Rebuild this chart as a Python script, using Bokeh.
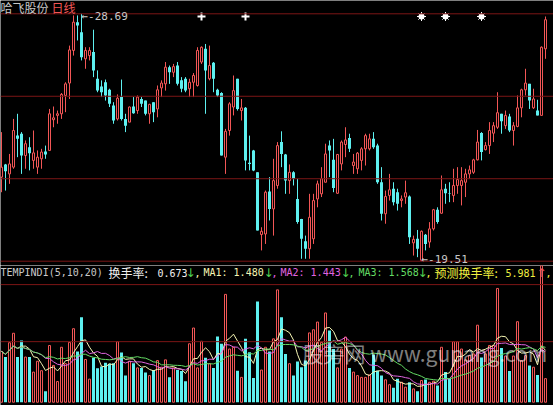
import pandas as pd
from bokeh.plotting import figure
from bokeh.layouts import column
from bokeh.models import ColumnDataSource, Label, Span
from bokeh.embed import file_html
from bokeh.resources import INLINE

# ---- daily prices ----
open_ = [22.63, 23.10, 22.75, 23.00, 24.17, 24.24, 23.43, 23.74, 23.25, 23.00,
         23.31, 23.58, 23.62, 24.76, 24.92, 24.98, 25.66, 26.12, 27.33, 28.38,
         28.01, 27.02, 27.14, 27.27, 26.28, 25.99, 26.15, 25.87, 25.29, 24.79,
         25.60, 24.79, 24.67, 25.25, 25.10, 25.53, 25.47, 24.98, 25.41, 25.16,
         25.94, 26.09, 26.71, 26.52, 26.77, 26.22, 26.28, 25.91, 26.15, 26.03,
         26.90, 27.39, 26.28, 26.87, 25.87, 25.75, 23.37, 24.36, 25.23, 26.28,
         25.10, 25.20, 23.16, 23.62, 22.81, 20.50, 20.52, 22.10, 21.45, 22.32,
         23.93, 23.47, 22.50, 22.81, 21.82, 21.08, 20.25, 19.97, 20.34, 21.82,
         22.01, 22.44, 23.80, 23.27, 22.03, 23.12, 23.84, 24.08, 23.06, 22.94,
         23.25, 23.68, 23.68, 24.05, 23.80, 22.44, 21.27, 21.95, 22.20, 22.07,
         21.76, 21.89, 21.91, 20.19, 20.34, 19.54, 20.49, 20.22, 20.71, 21.42,
         21.29, 22.20, 22.03, 21.95, 22.32, 22.32, 22.44, 22.75, 22.81, 23.27,
         24.27, 23.65, 23.80, 24.26, 24.48, 24.98, 24.54, 24.88, 24.36, 24.51,
         25.20, 25.87, 26.09, 25.20, 25.10, 24.92, 27.39]
high = [24.30, 23.12, 23.49, 24.79, 24.98, 24.30, 23.99, 24.11, 24.36, 23.62,
        23.68, 23.80, 25.16, 25.25, 25.10, 25.75, 26.15, 27.51, 28.63, 28.63,
        28.69, 27.45, 27.45, 28.10, 26.59, 26.22, 26.25, 25.91, 25.41, 25.70,
        26.25, 24.98, 25.25, 25.60, 25.66, 25.60, 25.47, 25.35, 25.41, 26.03,
        26.22, 26.90, 26.77, 26.83, 26.90, 26.34, 26.34, 26.28, 26.49, 27.45,
        27.48, 27.57, 27.51, 26.90, 25.91, 25.78, 24.42, 25.41, 26.40, 26.28,
        25.53, 25.23, 24.17, 23.64, 22.81, 20.77, 22.13, 22.63, 23.31, 23.93,
        24.33, 23.49, 23.10, 22.85, 22.57, 21.08, 20.46, 22.01, 22.01, 22.50,
        23.00, 23.87, 23.99, 24.05, 23.49, 23.99, 24.48, 24.24, 23.49, 23.56,
        23.74, 24.24, 24.24, 24.30, 23.87, 23.00, 22.13, 22.75, 22.44, 22.20,
        21.95, 22.50, 21.95, 20.46, 20.67, 20.65, 20.52, 20.96, 21.45, 21.51,
        22.69, 22.38, 22.44, 22.94, 23.00, 23.00, 22.94, 23.06, 23.31, 24.38,
        24.30, 23.93, 24.67, 24.67, 25.78, 24.98, 25.10, 24.98, 24.67, 25.66,
        25.91, 26.65, 26.09, 25.91, 25.50, 27.48, 28.59]
low = [22.07, 22.13, 22.38, 22.94, 23.37, 22.75, 22.94, 22.88, 22.94, 22.75,
       22.94, 23.31, 23.62, 24.48, 24.61, 24.79, 25.04, 25.53, 27.14, 27.70,
       26.96, 26.65, 26.96, 26.34, 25.78, 25.60, 25.47, 25.23, 24.61, 24.73,
       24.73, 24.30, 24.67, 24.98, 24.98, 25.23, 24.92, 24.61, 24.67, 24.85,
       25.60, 25.84, 26.09, 26.34, 26.03, 25.78, 25.78, 25.60, 25.60, 25.99,
       26.83, 24.98, 26.22, 25.78, 25.60, 23.43, 22.75, 24.17, 24.92, 25.10,
       24.73, 22.88, 22.88, 22.85, 20.65, 19.91, 20.15, 21.02, 20.46, 22.20,
       23.00, 22.01, 22.01, 22.32, 20.90, 19.60, 19.60, 19.60, 20.15, 21.51,
       21.89, 22.44, 22.63, 22.07, 22.01, 22.88, 23.37, 23.56, 22.75, 22.75,
       22.88, 23.06, 23.62, 23.68, 22.38, 21.02, 20.90, 21.76, 21.58, 21.39,
       21.51, 21.64, 20.15, 19.72, 19.66, 19.51, 19.91, 20.01, 20.65, 20.90,
       21.27, 21.64, 21.70, 21.70, 22.01, 21.58, 21.89, 22.57, 22.75, 23.25,
       23.25, 23.62, 23.49, 23.93, 24.42, 24.24, 24.42, 24.30, 23.80, 24.48,
       24.85, 25.66, 25.16, 25.16, 24.92, 24.92, 27.02]
close = [23.00, 22.85, 23.12, 24.36, 24.05, 23.43, 23.87, 23.52, 23.53, 23.37,
         23.56, 23.47, 24.98, 24.83, 24.98, 25.70, 26.09, 27.35, 28.38, 28.26,
         27.08, 27.33, 27.33, 26.59, 25.84, 25.78, 25.66, 25.35, 24.73, 25.56,
         24.79, 24.54, 25.23, 25.00, 25.60, 25.35, 24.98, 25.33, 25.04, 25.87,
         26.12, 26.71, 26.52, 26.73, 26.09, 25.91, 25.84, 26.15, 26.40, 27.33,
         27.45, 26.59, 26.77, 26.28, 25.66, 23.43, 24.33, 25.35, 25.84, 25.16,
         25.20, 23.25, 23.12, 22.88, 20.65, 20.62, 22.07, 21.45, 22.50, 23.80,
         23.49, 22.50, 22.81, 22.57, 20.96, 20.34, 19.97, 21.14, 21.76, 22.38,
         22.57, 23.49, 23.62, 22.23, 23.47, 23.93, 24.01, 23.68, 23.19, 23.52,
         23.68, 24.17, 24.05, 23.74, 22.44, 21.27, 21.91, 22.16, 21.70, 21.64,
         21.82, 22.05, 20.40, 20.32, 19.97, 20.62, 20.15, 20.71, 21.42, 20.96,
         22.16, 22.03, 22.01, 22.32, 22.54, 22.50, 22.75, 22.90, 23.27, 23.93,
         23.56, 23.80, 24.36, 24.54, 25.02, 24.70, 24.92, 24.36, 24.54, 25.20,
         25.87, 26.12, 25.47, 25.53, 24.92, 27.45, 28.47]

# ---- daily turnover rate (%) ----
turnover = [1.45, 1.29, 1.70, 1.97, 1.29, 1.76, 1.29, 1.29, 0.86, 1.17,
            0.90, 0.31, 1.62, 1.05, 0.59, 1.57, 1.10, 1.71, 2.10, 1.45,
            2.43, 1.22, 0.66, 1.27, 0.97, 1.02, 1.13, 1.10, 1.11, 1.73,
            1.42, 0.76, 1.17, 1.11, 0.98, 0.98, 0.85, 0.76, 0.92, 1.19,
            1.00, 1.21, 0.71, 0.98, 0.92, 0.89, 0.60, 1.67, 2.12, 0.98,
            1.74, 1.27, 1.10, 0.98, 1.88, 1.67, 3.08, 1.52, 1.57, 0.90,
            0.71, 1.81, 1.43, 0.69, 2.88, 0.92, 1.57, 1.45, 1.81, 3.21,
            2.43, 1.38, 1.10, 0.76, 1.16, 1.00, 1.19, 1.98, 2.07, 2.29,
            1.71, 2.55, 2.05, 1.52, 0.98, 1.52, 1.86, 0.98, 0.86, 0.76,
            0.71, 0.71, 0.78, 1.36, 0.90, 0.76, 0.64, 0.50, 0.41, 0.67,
            0.57, 0.43, 0.57, 0.38, 0.31, 0.62, 0.65, 0.57, 0.60, 0.48,
            1.57, 0.86, 0.67, 1.73, 1.73, 1.52, 1.21, 1.33, 1.38, 2.20,
            1.28, 1.38, 1.62, 1.62, 3.25, 1.55, 1.32, 0.89, 1.32, 2.30,
            1.19, 1.33, 1.05, 1.00, 0.777, 3.90, 0.673]

stock_name = "哈飞股份"
period_name = "日线"
indicator_title = "TEMPINDI(5,10,20)"
ma_windows = [5, 10, 20]
forecast_turnover = 5.981
cross_signal_idx = [50, 61]
star_signal_idx = [105, 111, 120]
turnover_grid = [1.73, 3.36]

UP = "#f25656"
DOWN = "#5ef0f0"
GRID = "#7c1616"
MA_COLORS = ["#f6f6b4", "#e064e0", "#64dc64"]
MONO = "DejaVu Sans Mono"
SANS = "DejaVu Sans"
CJK = "Noto Sans CJK SC"

W = 553
TOP_H, BOT_H = 265, 140
STEP = 4.0  # pixels per trading day

n = len(close)
df = pd.DataFrame(dict(x=list(range(n)), open=open_, high=high, low=low,
                       close=close, turnover=turnover))
df["up"] = df["close"] >= df["open"]
for w in ma_windows:
    df[f"ma{w}"] = df["turnover"].rolling(w, min_periods=1).mean()

# day i is centred on pixel column 4*i + 1 (wick drawn there, bodies 3 px wide)
x_start = -1.0 / STEP
x_end = x_start + W / STEP

# ---- price panel ----
p_max, p_min = df["high"].max(), df["low"].min()
top_px, bot_px = 13.3, 260.7
ppu = (bot_px - top_px) / (p_max - p_min)
y_end = p_max + top_px / ppu
y_start = p_min - (TOP_H - bot_px) / ppu

p = figure(width=W, height=TOP_H, x_range=(x_start, x_end), y_range=(y_start, y_end),
           x_axis_type=None, y_axis_type=None, toolbar_location=None,
           output_backend="svg", min_border=0, background_fill_color="black",
           border_fill_color="black", outline_line_color=None)

for k in range(4):
    p.add_layout(Span(location=p_min + k * (p_max - p_min) / 3, dimension="width",
                      line_color=GRID, line_width=1))

ups = ColumnDataSource(df[df["up"]])
downs = ColumnDataSource(df[~df["up"]])

p.segment(x0="x", y0="low", x1="x", y1="high", source=downs, line_color=DOWN, line_width=1)
p.vbar(x="x", width=0.75, top="open", bottom="close", source=downs,
       fill_color=DOWN, line_color=None)
p.segment(x0="x", y0="low", x1="x", y1="high", source=ups, line_color=UP, line_width=1)
p.vbar(x="x", width=0.5, top="close", bottom="open", source=ups,
       fill_color="black", line_color=UP, line_width=1)

# extreme-price annotations
i_max = int(df["high"].idxmax())
i_min = int(df["low"].idxmin())
p.add_layout(Label(x=i_max, y=p_max - 3 / ppu, text=f"←-{p_max:.2f}",
                   text_color="#c8c8c8", text_font=MONO, text_font_size="11px",
                   text_baseline="middle"))
p.add_layout(Label(x=i_min, y=p_min + 1.5 / ppu, text=f"←-{p_min:.2f}",
                   text_color="#c8c8c8", text_font=MONO, text_font_size="11px",
                   text_baseline="middle"))

# signal markers along the top line
sig_y = y_end - 16 / ppu
p.scatter(x=cross_signal_idx, y=[sig_y] * len(cross_signal_idx), marker="cross",
          size=8, line_color="white", line_width=2)
p.scatter(x=star_signal_idx, y=[sig_y] * len(star_signal_idx), marker="circle",
          size=6, fill_color="white", line_color=None)
p.scatter(x=star_signal_idx, y=[sig_y] * len(star_signal_idx), marker="asterisk",
          size=9, line_color="white", line_width=1)

title_y = y_end - 7 / ppu
p.add_layout(Label(x=0, x_units="screen", y=title_y, text=stock_name,
                   text_color="#c8c8c8", text_font=CJK, text_font_size="12px",
                   text_baseline="middle"))
p.add_layout(Label(x=51, x_units="screen", y=title_y, text=period_name,
                   text_color=UP, text_font=CJK, text_font_size="12px",
                   text_baseline="middle"))

# ---- turnover panel ----
vppu = 35.0
zero_px = 401.7 - TOP_H
v_end = zero_px / vppu
v_start = -(BOT_H - zero_px) / vppu

q = figure(width=W, height=BOT_H, x_range=p.x_range, y_range=(v_start, v_end),
           x_axis_type=None, y_axis_type=None, toolbar_location=None,
           output_backend="svg", min_border=0, background_fill_color="black",
           border_fill_color="black", outline_line_color=None)

for lev in turnover_grid:
    q.add_layout(Span(location=lev, dimension="width", line_color=GRID, line_width=1))

q.vbar(x="x", width=0.75, top="turnover", bottom=0, source=downs,
       fill_color=DOWN, line_color=None)
q.vbar(x="x", width=0.5, top="turnover", bottom=0, source=ups,
       fill_color="black", line_color=UP, line_width=1)

src = ColumnDataSource(df)
for w, c in zip(ma_windows, MA_COLORS):
    q.line(x="x", y=f"ma{w}", source=src, line_color=c, line_width=1)


def arrow(cur, prev):
    return "↑" if cur >= prev else "↓"


row_y = (zero_px - (272 - TOP_H)) / vppu
last = df.iloc[-1]
prev = df.iloc[-2]
ma_vals = [last[f"ma{w}"] for w in ma_windows]
ma_prev = [prev[f"ma{w}"] for w in ma_windows]

GREEN_ARROW = "#50d050"
items = [
    (0, indicator_title, "#c8c8c8", MONO, "10px"),
    (108, "换手率:", "#f0f0f0", CJK, "12px"),
    (157, f"{last['turnover']:.3f}", "#f0f0f0", MONO, "10px"),
    (185, arrow(last["turnover"], prev["turnover"]), GREEN_ARROW, SANS, "12px"),
    (194, ",", MA_COLORS[0], MONO, "10px"),
    (203, f"MA1: {ma_vals[0]:.3f}", MA_COLORS[0], MONO, "10px"),
    (263, arrow(ma_vals[0], ma_prev[0]), GREEN_ARROW, SANS, "12px"),
    (271, ",", MA_COLORS[1], MONO, "10px"),
    (280, f"MA2: {ma_vals[1]:.3f}", MA_COLORS[1], MONO, "10px"),
    (340, arrow(ma_vals[1], ma_prev[1]), GREEN_ARROW, SANS, "12px"),
    (348, ",", MA_COLORS[2], MONO, "10px"),
    (358, f"MA3: {ma_vals[2]:.3f}", MA_COLORS[2], MONO, "10px"),
    (417, arrow(ma_vals[2], ma_prev[2]), GREEN_ARROW, SANS, "12px"),
    (425, ",", "#f0f040", MONO, "10px"),
    (434, "预测换手率:", "#f0f040", CJK, "12px"),
    (505, f"{forecast_turnover:.3f}", "#f0f040", MONO, "10px"),
    (536, arrow(forecast_turnover, prev["turnover"]), UP, SANS, "12px"),
    (545, ",", "#f0f040", MONO, "10px"),
]
for x_px, txt, col, font, size in items:
    q.add_layout(Label(x=x_px, x_units="screen", y=row_y, text=txt, text_color=col,
                       text_font=font, text_font_size=size, text_baseline="middle"))

q.add_layout(Label(x=302, x_units="screen", y=(zero_px - (352 - TOP_H)) / vppu,
                   text="股旁网 www.gupang.com", text_color="white", text_alpha=0.5,
                   text_font=CJK, text_font_size="21px", text_baseline="middle"))

layout = column(p, q, spacing=0)
open("out.html", "w").write(file_html(layout, INLINE))
